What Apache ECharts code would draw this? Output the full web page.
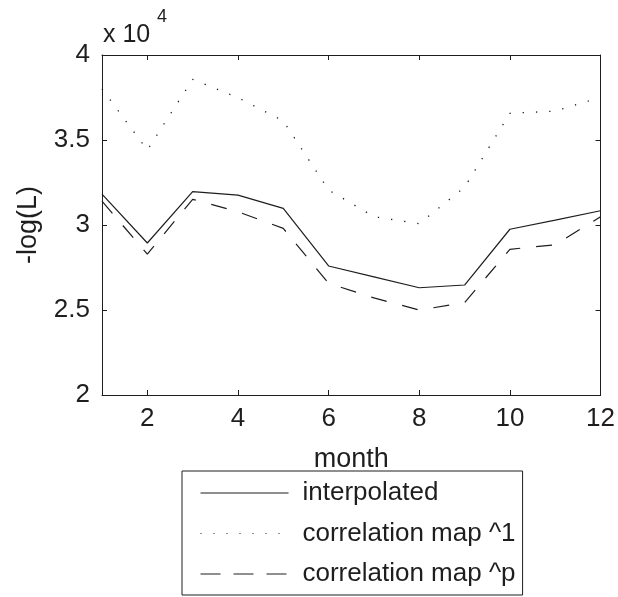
<!DOCTYPE html>
<html>
<head>
<meta charset="utf-8">
<script src="https://cdn.jsdelivr.net/npm/echarts@6/dist/echarts.min.js"></script>
<style>
html,body{margin:0;padding:0;background:#fff;}
#chart{width:618px;height:597px;}
</style>
</head>
<body>
<div id="chart"></div>
<script>
var months = [1,2,3,4,5,6,7,8,9,10,11,12];
var xTicks = [2,4,6,8,10,12];
var yTicks = [20000,25000,30000,35000,40000];
var interpolated = [31820,28940,31960,31760,30980,27590,26950,26310,26470,29750,30290,30840];
var corrMap1 = [38000,34410,38570,37490,36120,32060,30490,30080,32220,36570,36700,37510];
var corrMapP = [31400,28290,31510,30780,29800,26570,25710,25000,25430,28570,28840,30490];
var seriesNames = ['interpolated','correlation map ^1','correlation map ^p'];

function pairs(vals){ return months.map(function(m,i){ return [m, vals[i]]; }); }

var FONT = 'Liberation Sans, Arial, sans-serif';
var INK = '#1e1e1e';
var hidden = {opacity:0, borderWidth:0};

var chart = echarts.init(document.getElementById('chart'), null, {renderer:'canvas'});
chart.setOption({
  backgroundColor:'#ffffff',
  animation:false,
  grid:{left:102, right:16, top:55, bottom:202, containLabel:false},
  xAxis:[{
    type:'value', min:1, max:12, position:'bottom',
    name:'month', nameLocation:'middle', nameGap:51,
    nameTextStyle:{fontFamily:FONT, fontSize:27, color:INK},
    axisLine:{show:true, lineStyle:{color:INK, width:1}},
    axisTick:{show:true, inside:true, length:5, customValues:xTicks, lineStyle:{color:INK}},
    axisLabel:{show:true, customValues:xTicks, margin:11, fontFamily:FONT, fontSize:26, color:INK},
    splitLine:{show:false}
  },{
    type:'value', min:1, max:12, position:'top',
    axisLine:{show:true, lineStyle:{color:INK, width:1}},
    axisTick:{show:true, inside:true, length:5, customValues:xTicks, lineStyle:{color:INK}},
    axisLabel:{show:false},
    splitLine:{show:false}
  }],
  yAxis:[{
    type:'value', min:20000, max:40000, interval:5000, position:'left',
    name:'-log(L)', nameLocation:'middle', nameGap:60, nameRotate:90,
    nameTextStyle:{fontFamily:FONT, fontSize:27, color:INK},
    axisLine:{show:true, lineStyle:{color:INK, width:1}},
    axisTick:{show:true, inside:true, length:5, lineStyle:{color:INK}},
    axisLabel:{show:true, margin:12, fontFamily:FONT, fontSize:26, color:INK,
      formatter:function(v){ return String(v/10000); }},
    splitLine:{show:false}
  },{
    type:'value', min:20000, max:40000, interval:5000, position:'right',
    axisLine:{show:true, lineStyle:{color:INK, width:1}},
    axisTick:{show:true, inside:true, length:5, lineStyle:{color:INK}},
    axisLabel:{show:false},
    splitLine:{show:false}
  }],
  legend:{
    orient:'vertical', left:182, top:471,
    padding:[9,7,8,18], itemGap:14.5, itemWidth:88, itemHeight:26,
    borderColor:INK, borderWidth:1, backgroundColor:'#fff',
    textStyle:{fontFamily:FONT, fontSize:26, color:INK, padding:[0,0,0,9]},
    itemStyle:hidden,
    data:[
      {name:seriesNames[0], itemStyle:hidden, lineStyle:{type:'solid', width:1, color:INK}},
      {name:seriesNames[1], itemStyle:hidden, lineStyle:{type:[1,12], width:1, color:INK}},
      {name:seriesNames[2], itemStyle:hidden, lineStyle:{type:[20,13], width:1, color:INK}}
    ]
  },
  graphic:[
    {type:'text', left:103, top:23, style:{text:'x 10', font:'25px '+FONT, fill:INK}},
    {type:'text', left:157, top:8, style:{text:'4', font:'18px '+FONT, fill:INK}}
  ],
  series:[
    {name:seriesNames[0], type:'line', data:pairs(interpolated), showSymbol:false, symbol:'none',
      lineStyle:{color:INK, width:1.2, type:'solid'}, itemStyle:{color:INK}},
    {name:seriesNames[1], type:'line', data:pairs(corrMap1), showSymbol:false, symbol:'none',
      lineStyle:{color:INK, width:1.3, type:[1.3,12]}, itemStyle:{color:INK}},
    {name:seriesNames[2], type:'line', data:pairs(corrMapP), showSymbol:false, symbol:'none',
      lineStyle:{color:INK, width:1.2, type:[16,16]}, itemStyle:{color:INK}}
  ]
});
</script>
</body>
</html>
